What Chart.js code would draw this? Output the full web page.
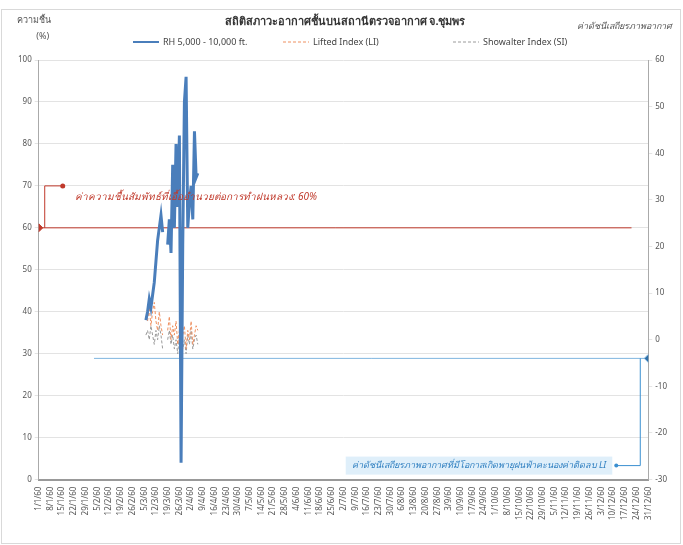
<!DOCTYPE html>
<html>
<head>
<meta charset="utf-8">
<script src="https://cdn.jsdelivr.net/npm/chart.js@4"></script>
<style>
  html, body { margin: 0; padding: 0; background: #fff; }
  #wrap { width: 683px; height: 545px; }
</style>
</head>
<body>
<div id="wrap"><canvas id="chart" width="683" height="545"></canvas></div>
<script>
// ป้ายแกน x (รายสัปดาห์)
const weekLabels = ['1/1/60','8/1/60','15/1/60','22/1/60','29/1/60','5/2/60','12/2/60','19/2/60','26/2/60',
    '5/3/60','12/3/60','19/3/60','26/3/60','2/4/60','9/4/60','16/4/60','23/4/60','30/4/60','7/5/60',
    '14/5/60','21/5/60','28/5/60','4/6/60','11/6/60','18/6/60','25/6/60','2/7/60','9/7/60','16/7/60',
    '23/7/60','30/7/60','6/8/60','13/8/60','20/8/60','27/8/60','3/9/60','10/9/60','17/9/60','24/9/60',
    '1/10/60','8/10/60','15/10/60','22/10/60','29/10/60','5/11/60','12/11/60','19/11/60','26/11/60',
    '3/12/60','10/12/60','17/12/60','24/12/60','31/12/60'];

// วันแรกที่มีข้อมูล (ลำดับวันในปี)
const firstDay = 64;

// ความชื้น 5,000 - 10,000 ft. (%)
const rhValues = [38, 40, 43, 41, 44, 47, 52, 57, 60, 63, 59, null, null, 56, 62, 54,
    75, 60, 80, 65, 82, 4, 56, 90, 96, 60, 66, 70, 62, 83, 72, 73];

// Lifted Index (LI)
const liValues = [5, 4, 7, 3, 6, 8, 4, 2, 6, 3, 1, null, null, 2, 5, 0,
    3, 1, 4, -1, 2, 6, 1, 3, -2, 2, 0, 4, -1, 1, 3, 2];

// Showalter Index (SI)
const siValues = [1, 2, 0, 3, 1, -1, 2, 0, 3, 1, -2, null, null, 0, 2, -1,
    1, -2, 0, -3, 1, 2, -2, 0, -3, 1, -1, 2, -2, 0, 1, -1];

// เกณฑ์
const rhThreshold = 60;
const rhThresholdDays = [0, 354];
const liThreshold = -4;
const liThresholdDays = [33, 364];

const seriesNames = ['RH 5,000 - 10,000 ft.', 'Lifted Index (LI)', 'Showalter Index (SI)'];

const toPoints = (values) => values.map((v, i) => ({ x: firstDay + i, y: v }));

const FONT = '"Noto Sans", sans-serif';

const annotationPlugin = {
    id: 'notes',
    beforeDraw(chart) {
        const ctx = chart.ctx;
        ctx.save();
        ctx.strokeStyle = '#d9d9d9';
        ctx.lineWidth = 1;
        ctx.strokeRect(1.5, 9.5, 679, 534);
        ctx.restore();
    },
    afterDatasetsDraw(chart) {
        const ctx = chart.ctx;
        const x = chart.scales.x, yL = chart.scales.y, yR = chart.scales.y1;
        const area = chart.chartArea;
        ctx.save();

        // ชื่อกราฟ
        ctx.fillStyle = '#333';
        ctx.textAlign = 'center';
        ctx.textBaseline = 'middle';
        ctx.font = 'bold 11px ' + FONT;
        ctx.fillText('สถิติสภาวะอากาศชั้นบนสถานีตรวจอากาศ จ.ชุมพร', 345, 22);

        // คำอธิบายสัญลักษณ์
        const legendPos = [133, 283, 453];
        ctx.font = '9px ' + FONT;
        ctx.textAlign = 'left';
        chart.data.datasets.slice(0, 3).forEach((ds, i) => {
            const lx = legendPos[i];
            ctx.strokeStyle = ds.borderColor;
            ctx.lineWidth = i === 0 ? 2 : 1;
            ctx.setLineDash(ds.borderDash || []);
            ctx.beginPath();
            ctx.moveTo(lx, 42);
            ctx.lineTo(lx + 26, 42);
            ctx.stroke();
            ctx.setLineDash([]);
            ctx.fillStyle = '#444';
            ctx.fillText(seriesNames[i], lx + 30, 42);
        });

        // หัวแกนซ้าย / ขวา
        ctx.fillStyle = '#555';
        ctx.font = '9px ' + FONT;
        ctx.textAlign = 'center';
        ctx.fillText('ความชื้น', area.left - 5, 20);
        ctx.fillText('(%)', area.left + 4, 36);
        ctx.textAlign = 'right';
        ctx.font = 'italic 9px ' + FONT;
        ctx.fillText('ค่าดัชนีเสถียรภาพอากาศ', 672, 26);

        // คำอธิบายเกณฑ์ความชื้น
        const rx = x.getPixelForValue(rhThresholdDays[0]) + 6;
        const ry0 = yL.getPixelForValue(rhThreshold);
        const ry1 = yL.getPixelForValue(70);
        ctx.strokeStyle = '#c0392b';
        ctx.fillStyle = '#c0392b';
        ctx.lineWidth = 1;
        ctx.beginPath();
        ctx.moveTo(rx, ry0);
        ctx.lineTo(rx, ry1);
        ctx.lineTo(rx + 18, ry1);
        ctx.stroke();
        ctx.beginPath();
        ctx.arc(rx + 18, ry1, 2.5, 0, Math.PI * 2);
        ctx.fill();
        ctx.font = 'italic 10px ' + FONT;
        ctx.textAlign = 'left';
        ctx.fillText('ค่าความชื้นสัมพัทธ์ที่เอื้ออำนวยต่อการทำฝนหลวง: 60%', rx + 30, yL.getPixelForValue(67.3));

        // คำอธิบายเกณฑ์ LI
        const bx = x.getPixelForValue(liThresholdDays[1]) - 8;
        const by0 = yR.getPixelForValue(liThreshold);
        const by1 = yR.getPixelForValue(-27);
        ctx.strokeStyle = '#3a8fd0';
        ctx.fillStyle = '#3a8fd0';
        ctx.beginPath();
        ctx.moveTo(bx, by0);
        ctx.lineTo(bx, by1);
        ctx.lineTo(bx - 24, by1);
        ctx.stroke();
        ctx.beginPath();
        ctx.arc(bx - 24, by1, 2, 0, Math.PI * 2);
        ctx.fill();
        const note = 'ค่าดัชนีเสถียรภาพอากาศที่มีโอกาสเกิดพายุฝนฟ้าคะนองค่าติดลบ LI';
        ctx.font = 'italic 9px ' + FONT;
        const w = ctx.measureText(note).width;
        ctx.fillStyle = 'rgba(210,232,248,0.7)';
        ctx.fillRect(bx - 34 - w - 6, by1 - 9, w + 12, 18);
        ctx.fillStyle = '#2f7fc0';
        ctx.textAlign = 'right';
        ctx.fillText(note, bx - 34, by1);
        ctx.restore();
    }
};

new Chart(document.getElementById('chart'), {
    type: 'line',
    data: {
        datasets: [
            {
                label: seriesNames[0],
                data: toPoints(rhValues),
                borderColor: '#4a7ebb',
                backgroundColor: '#4a7ebb',
                borderWidth: 3,
                pointRadius: 0,
                yAxisID: 'y'
            },
            {
                label: seriesNames[1],
                data: toPoints(liValues),
                borderColor: '#ee9060',
                backgroundColor: '#ee9060',
                borderWidth: 1,
                borderDash: [3, 2],
                pointRadius: 0,
                yAxisID: 'y1'
            },
            {
                label: seriesNames[2],
                data: toPoints(siValues),
                borderColor: '#9a9a9a',
                backgroundColor: '#9a9a9a',
                borderWidth: 1,
                borderDash: [3, 2],
                pointRadius: 0,
                yAxisID: 'y1'
            },
            {
                label: 'rh-limit',
                data: rhThresholdDays.map(d => ({ x: d, y: rhThreshold })),
                borderColor: '#c0392b',
                backgroundColor: '#c0392b',
                borderWidth: 1,
                pointStyle: 'rectRot',
                pointRadius: [4, 0],
                yAxisID: 'y'
            },
            {
                label: 'li-limit',
                data: liThresholdDays.map(d => ({ x: d, y: liThreshold })),
                borderColor: '#7fb6e0',
                backgroundColor: '#2f6fa8',
                borderWidth: 1,
                pointStyle: 'rectRot',
                pointRadius: [0, 4],
                yAxisID: 'y1'
            }
        ]
    },
    options: {
        responsive: false,
        animation: false,
        spanGaps: false,
        layout: { padding: { left: 15, right: 13, top: 60, bottom: 22 } },
        plugins: {
            title: { display: false },
            legend: { display: false },
            tooltip: { enabled: false }
        },
        scales: {
            x: {
                type: 'linear',
                min: 0,
                max: 364,
                afterBuildTicks: axis => {
                    axis.ticks = weekLabels.map((_, i) => ({ value: i * 7 }));
                },
                ticks: {
                    autoSkip: false,
                    maxRotation: 90,
                    minRotation: 90,
                    color: '#555',
                    font: { size: 8, family: FONT },
                    callback: (value) => weekLabels[Math.round(value / 7)]
                },
                grid: { display: false, drawTicks: true, tickLength: 4 },
                border: { color: '#999', width: 2 }
            },
            y: {
                position: 'left',
                min: 0,
                max: 100,
                ticks: {
                    stepSize: 10,
                    color: '#555',
                    font: { size: 8, family: FONT }
                },
                grid: { color: '#e3e3e3', tickLength: 4 },
                border: { color: '#aaa' }
            },
            y1: {
                position: 'right',
                min: -30,
                max: 60,
                ticks: {
                    stepSize: 10,
                    color: '#555',
                    font: { size: 8, family: FONT }
                },
                grid: { drawOnChartArea: false, tickLength: 4 },
                border: { color: '#aaa' }
            }
        }
    },
    plugins: [annotationPlugin]
});
</script>
</body>
</html>
